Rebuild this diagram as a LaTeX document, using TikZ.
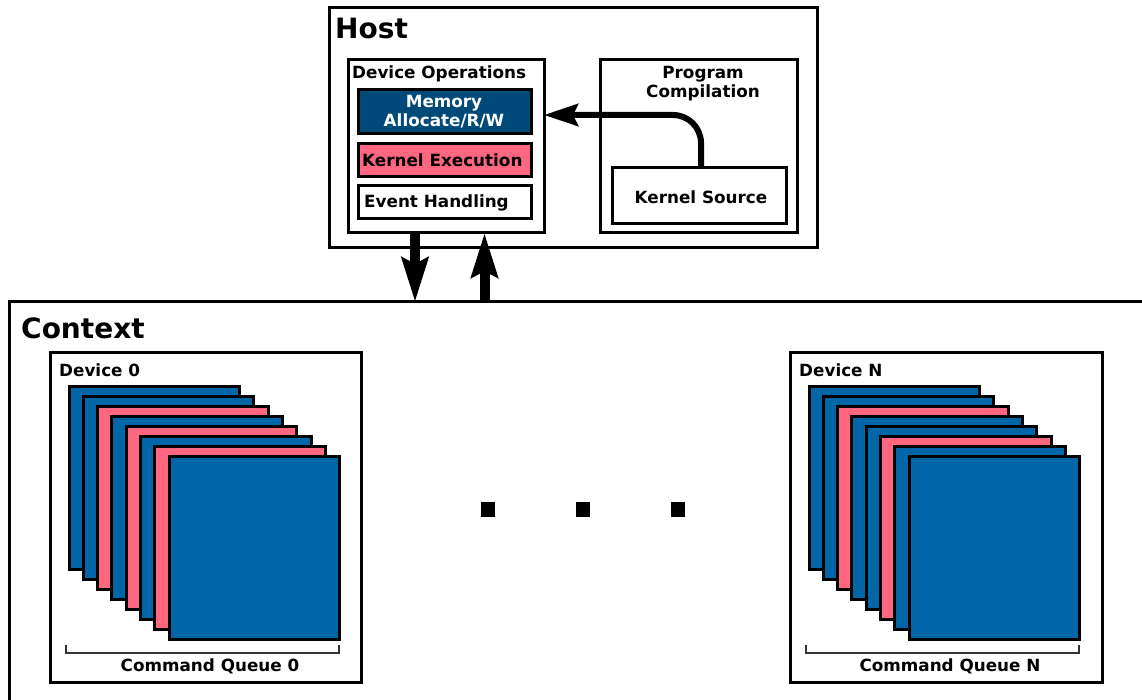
\documentclass[tikz,border=0pt]{standalone}
\usepackage{fontspec}
\setmainfont{DejaVu Sans}
\usetikzlibrary{arrows.meta}
\definecolor{qblue}{HTML}{0066A8}
\definecolor{qdark}{HTML}{004A7A}
\definecolor{qpink}{HTML}{FF6680}
\tikzset{
  box/.style={draw=black, line width=3pt, anchor=north west, inner sep=0pt, outer sep=0pt, fill=white},
  big/.style={font=\fontsize{28}{30}\selectfont\bfseries, inner sep=0pt},
  small/.style={font=\fontsize{16.8}{20}\selectfont\bfseries, inner sep=0pt, align=center},
  fatarrow/.style={line width=10pt, -{Stealth[length=44pt, width=26pt, inset=6pt]}},
  karrow/.style={line width=6pt, rounded corners=28pt, -{Stealth[length=34pt, width=22pt, inset=5pt]}},
  sq/.style={draw=black, line width=3pt},
  brack/.style={draw=black!80, line width=1.5pt},
}
\begin{document}
\begin{tikzpicture}[x=1pt, y=-1pt]
\useasboundingbox (0,0) rectangle (1142,700);
% Host
\node[box, minimum width=488pt, minimum height=240pt] (host) at (329,8) {};
\node[big, anchor=west] (hostlbl) at (335,28) {Host};
\node[box, minimum width=196pt, minimum height=173pt] (devops) at (348,60) {};
\node[small, anchor=west] (devopslbl) at (352,74) {Device Operations};
\node[box, fill=qdark, minimum width=173pt, minimum height=44pt] (mem) at (358,90) {};
\node[small, text=white] (memlbl) at (444,112) {Memory\\[-1pt]Allocate/R/W};
\node[box, fill=qpink, minimum width=173pt, minimum height=33pt] (kex) at (358,144) {};
\node[small, anchor=west] (kexlbl) at (362,160.5) {Kernel Execution};
\node[box, minimum width=173pt, minimum height=33pt] (evh) at (358,186) {};
\node[small, anchor=west] (evhlbl) at (364,202.5) {Event Handling};
\node[box, minimum width=197pt, minimum height=173pt] (prog) at (600,60) {};
\node[small] (proglbl) at (703,84) {Program\\[-1pt]Compilation};
\node[box, minimum width=174pt, minimum height=56pt] (ksrc) at (612,168) {};
\node[small] (ksrclbl) at (701,197) {Kernel Source};
\coordinate (kx) at (701,115);
\draw[karrow] (ksrc.north -| kx) |- (devops.east |- kx);
% Context
\node[box, minimum width=1160pt, minimum height=420pt] (ctx) at (9,302) {};
\node[big, anchor=west] (ctxlbl) at (21,328) {Context};
\coordinate (dn) at (415,0);
\coordinate (up) at (484.5,0);
\draw[fatarrow] (devops.south -| dn) -- (ctx.north -| dn);
\draw[fatarrow] (ctx.north -| up) -- (devops.south -| up);
% Devices
\node[box, minimum width=311pt, minimum height=330pt] (dev0) at (50,352) {};
\node[small, anchor=west] (dev0lbl) at (59,370) {Device 0};
\node[box, minimum width=312pt, minimum height=330pt] (devN) at (790,352) {};
\node[small, anchor=west] (devNlbl) at (799,370) {Device N};
\foreach \c [count=\i from 0] in {qblue,qblue,qpink,qblue,qpink,qblue,qpink,qblue} {
  \draw[sq, fill=\c] (69+14.3*\i,386+10*\i) rectangle ++(170.5,183);
}
\foreach \c [count=\i from 0] in {qblue,qblue,qpink,qblue,qblue,qpink,qblue,qblue} {
  \draw[sq, fill=\c] (809+14.3*\i,386+10*\i) rectangle ++(170.5,183);
}
\draw[brack] (66,645) -- (66,653) -- (339,653) -- (339,645);
\node[small] (cq0) at (210,666.5) {Command Queue 0};
\draw[brack] (806,645) -- (806,653) -- (1079,653) -- (1079,645);
\node[small] (cqN) at (950,666.5) {Command Queue N};
% dots
\foreach \x in {488,583,678} {
  \fill (\x-7,502) rectangle ++(14,15);
}
\end{tikzpicture}
\end{document}
